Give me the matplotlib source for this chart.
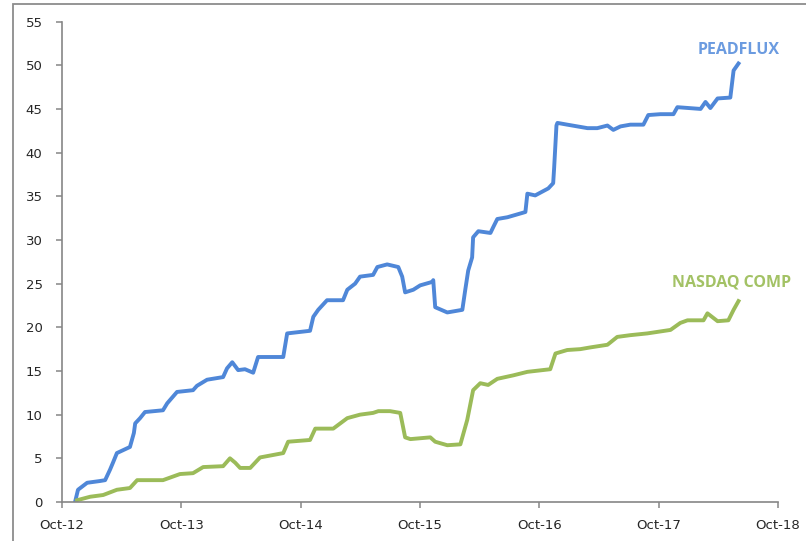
import pandas as pd
import matplotlib.pyplot as plt
import matplotlib.dates as mdates
from matplotlib.patches import Rectangle

# cumulative returns
peadflux_dates = ['2012-11-10', '2012-11-19', '2012-12-17', '2013-01-25', '2013-02-10', '2013-02-25',
                  '2013-03-06', '2013-03-18', '2013-04-27', '2013-05-09', '2013-05-13', '2013-05-28',
                  '2013-06-12', '2013-08-06', '2013-08-19', '2013-09-18', '2013-11-06', '2013-11-18',
                  '2013-12-19', '2014-02-06', '2014-02-18', '2014-03-06', '2014-03-24', '2014-04-14',
                  '2014-05-09', '2014-05-24', '2014-08-09', '2014-08-21', '2014-10-30', '2014-11-09',
                  '2014-11-24', '2014-12-21', '2015-02-08', '2015-02-21', '2015-03-17', '2015-04-01',
                  '2015-05-11', '2015-05-24', '2015-06-23', '2015-07-27', '2015-08-08', '2015-08-17',
                  '2015-09-11', '2015-10-02', '2015-11-08', '2015-11-11', '2015-11-17', '2015-12-24',
                  '2016-02-08', '2016-02-17', '2016-02-26', '2016-03-09', '2016-03-12', '2016-03-28',
                  '2016-05-04', '2016-05-13', '2016-05-25', '2016-06-25', '2016-08-10', '2016-08-19',
                  '2016-08-25', '2016-09-18', '2016-10-28', '2016-11-12', '2016-11-15', '2016-11-22',
                  '2016-11-25', '2016-12-25', '2017-02-25', '2017-03-27', '2017-04-27', '2017-05-15',
                  '2017-06-06', '2017-07-06', '2017-08-15', '2017-08-30', '2017-10-06', '2017-11-15',
                  '2017-11-27', '2018-02-06', '2018-02-21', '2018-03-08', '2018-03-30', '2018-05-08',
                  '2018-05-18', '2018-06-02']
peadflux = [0.0, 1.4, 2.2, 2.4, 2.5, 3.7,
            4.5, 5.6, 6.3, 7.9, 9.0, 9.6,
            10.3, 10.5, 11.3, 12.6, 12.8, 13.3,
            14.0, 14.3, 15.3, 16.0, 15.1, 15.2,
            14.8, 16.6, 16.6, 19.3, 19.6, 21.2,
            22.0, 23.1, 23.1, 24.3, 25.0, 25.8,
            26.0, 26.9, 27.2, 26.9, 25.8, 24.0,
            24.3, 24.8, 25.2, 25.4, 22.3, 21.7,
            22.0, 24.3, 26.5, 28.0, 30.3, 31.0,
            30.8, 31.5, 32.4, 32.6, 33.1, 33.2,
            35.3, 35.1, 35.9, 36.5, 38.3, 43.1,
            43.4, 43.2, 42.8, 42.8, 43.1, 42.6,
            43.0, 43.2, 43.2, 44.3, 44.4, 44.4,
            45.2, 45.0, 45.8, 45.1, 46.2, 46.3,
            49.4, 50.2]

nasdaq_dates = ['2012-11-16', '2012-12-26', '2013-02-04', '2013-03-18', '2013-04-27', '2013-05-19',
                '2013-08-06', '2013-09-27', '2013-11-06', '2013-12-07', '2014-02-06', '2014-02-27',
                '2014-03-15', '2014-03-30', '2014-04-30', '2014-05-30', '2014-08-09', '2014-08-24',
                '2014-10-30', '2014-11-15', '2015-01-09', '2015-02-21', '2015-04-01', '2015-05-11',
                '2015-05-27', '2015-07-02', '2015-08-02', '2015-08-17', '2015-09-02', '2015-11-02',
                '2015-11-17', '2015-12-24', '2016-02-02', '2016-02-23', '2016-03-12', '2016-04-03',
                '2016-04-27', '2016-05-25', '2016-07-13', '2016-08-25', '2016-11-03', '2016-11-19',
                '2016-12-25', '2017-02-03', '2017-03-06', '2017-04-27', '2017-05-27', '2017-07-06',
                '2017-08-27', '2017-11-06', '2017-12-06', '2017-12-28', '2018-02-15', '2018-02-27',
                '2018-03-30', '2018-05-02', '2018-05-18', '2018-06-02']
nasdaq = [0.2, 0.6, 0.8, 1.4, 1.6, 2.5,
          2.5, 3.2, 3.3, 4.0, 4.1, 5.0,
          4.5, 3.9, 3.9, 5.1, 5.6, 6.9,
          7.1, 8.4, 8.4, 9.6, 10.0, 10.2,
          10.4, 10.4, 10.2, 7.4, 7.2, 7.4,
          6.9, 6.5, 6.6, 9.4, 12.8, 13.6,
          13.4, 14.1, 14.5, 14.9, 15.2, 17.0,
          17.4, 17.5, 17.7, 18.0, 18.9, 19.1,
          19.3, 19.7, 20.5, 20.8, 20.8, 21.6,
          20.7, 20.8, 22.0, 23.0]

tick_dates = ['2012-10-01', '2013-10-01', '2014-10-01', '2015-10-01',
              '2016-10-01', '2017-10-01', '2018-10-01']

blue = '#4f87d8'
green = '#9bbb59'

px = pd.to_datetime(peadflux_dates)
nx = pd.to_datetime(nasdaq_dates)
ticks = pd.to_datetime(tick_dates)

fig = plt.figure(figsize=(8.06, 5.41), dpi=100)
ax = fig.add_axes([0.0769, 0.0721, 0.8884, 0.888])

ax.plot(px, peadflux, color=blue, lw=2.8, solid_joinstyle='round')
ax.plot(nx, nasdaq, color=green, lw=2.8, solid_joinstyle='round')

ax.annotate('PEADFLUX', xy=(px[-1], peadflux[-1]), xytext=(0, 14), textcoords='offset pixels',
            ha='center', va='center', color='#6b9be0', fontsize=11.5, fontweight='bold', family='Open Sans')
ax.annotate('NASDAQ COMP', xy=(nx[-1], nasdaq[-1]), xytext=(-7, 19), textcoords='offset pixels',
            ha='center', va='center', color='#a3c265', fontsize=11.5, fontweight='bold', family='Open Sans')

ax.set_xlim(ticks[0], ticks[-1])
ax.set_ylim(0, 55)
ax.set_yticks(range(0, 56, 5))
ax.set_xticks(ticks)
ax.xaxis.set_major_formatter(mdates.DateFormatter('%b-%y'))

for s in ['top', 'right']:
    ax.spines[s].set_visible(False)
for s in ['left', 'bottom']:
    ax.spines[s].set_color('#868686')
    ax.spines[s].set_linewidth(1.2)
ax.tick_params(axis='both', colors='#868686', labelcolor='#262626', labelsize=9.5, length=4, width=1.1)
ax.tick_params(axis='y', pad=10)
ax.tick_params(axis='x', pad=8)

# outer chart border (only top and left visible in the crop)
fig.patches.append(Rectangle((13 / 806, -0.1), 1.2, 0.1 + 1 - 4 / 541, transform=fig.transFigure,
                             fill=False, edgecolor='#8c8c8c', lw=1.3))

fig.savefig('out.png', dpi=100)
plt.close()
